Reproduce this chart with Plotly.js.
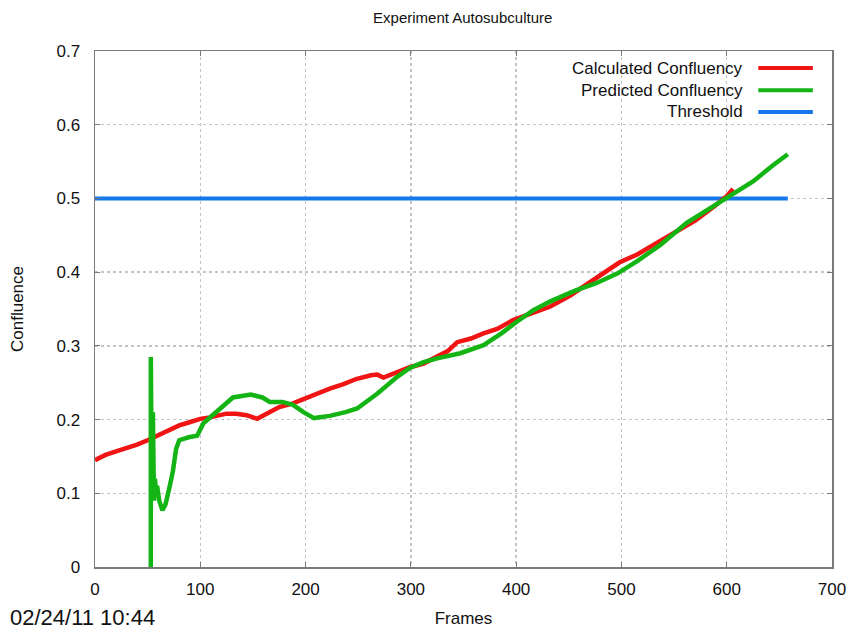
<!DOCTYPE html>
<html>
<head>
<meta charset="utf-8">
<script src="https://cdn.plot.ly/plotly-3.0.1.min.js"></script>
<style>html,body{margin:0;padding:0;background:#fff;}#chart{width:849px;height:634px;}</style>
</head>
<body>
<div id="chart"></div>
<script>
// Calculated confluency (red)
const redFrames = [0, 10, 20, 30, 40, 50, 59, 69, 80, 89, 100, 109, 125, 134, 144, 154, 164, 175, 188, 198, 210, 223, 236, 248, 262, 268, 274, 282, 299, 312, 325, 335, 344, 357, 369, 382, 397, 414, 432, 451, 471, 486, 498, 515, 530, 543, 556, 570, 588, 600, 606];
const redValues = [0.145, 0.152, 0.157, 0.161, 0.166, 0.172, 0.178, 0.185, 0.192, 0.196, 0.201, 0.203, 0.208, 0.208, 0.206, 0.201, 0.208, 0.217, 0.222, 0.228, 0.235, 0.242, 0.248, 0.255, 0.260, 0.261, 0.257, 0.262, 0.271, 0.276, 0.285, 0.293, 0.305, 0.310, 0.317, 0.323, 0.335, 0.344, 0.353, 0.368, 0.387, 0.400, 0.413, 0.424, 0.437, 0.447, 0.458, 0.470, 0.489, 0.503, 0.513];

// Predicted confluency (green)
const greenFrames = [53, 53, 54, 55, 56, 57, 58, 59, 61, 64, 67, 71, 74, 77, 80, 89, 97, 103, 111, 119, 131, 148, 159, 166, 178, 188, 198, 208, 223, 238, 249, 268, 287, 299, 312, 325, 347, 369, 386, 400, 416, 432, 456, 476, 496, 515, 537, 562, 585, 601, 625, 644, 658];
const greenValues = [0.0, 0.285, 0.10, 0.21, 0.09, 0.12, 0.10, 0.11, 0.09, 0.077, 0.085, 0.11, 0.13, 0.16, 0.172, 0.176, 0.178, 0.195, 0.205, 0.217, 0.230, 0.234, 0.230, 0.224, 0.224, 0.220, 0.210, 0.202, 0.205, 0.210, 0.215, 0.235, 0.258, 0.270, 0.278, 0.283, 0.290, 0.301, 0.317, 0.332, 0.348, 0.360, 0.375, 0.385, 0.398, 0.415, 0.437, 0.467, 0.488, 0.501, 0.523, 0.545, 0.560];

// Threshold (blue)
const thresholdFrames = [0, 658];
const thresholdValues = [0.5, 0.5];

const seriesNames = ["Calculated Confluency", "Predicted Confluency", "Threshold"];
const seriesColors = ["rgb(240,20,20)", "rgb(20,180,20)", "rgb(20,120,235)"];

const xTicks = [0, 100, 200, 300, 400, 500, 600, 700];
const yTicks = [0, 0.1, 0.2, 0.3, 0.4, 0.5, 0.6, 0.7];
const yTickLabels = ["0", "0.1", "0.2", "0.3", "0.4", "0.5", "0.6", "0.7"];

const FONT = "Liberation Sans, Arial, sans-serif";

const traces = [
  {x: thresholdFrames, y: thresholdValues, name: seriesNames[2], mode: "lines", line: {color: seriesColors[2], width: 4}},
  {x: redFrames, y: redValues, name: seriesNames[0], mode: "lines", line: {color: seriesColors[0], width: 4.5}},
  {x: greenFrames, y: greenValues, name: seriesNames[1], mode: "lines", line: {color: seriesColors[1], width: 4.5}}
];

const legendRows = [0.967, 0.924, 0.882];
const annotations = [];
const shapes = [];
seriesNames.forEach((n, i) => {
  annotations.push({xref: "paper", yref: "paper", x: 0.882, y: legendRows[i], xanchor: "right", yanchor: "middle",
    text: n, showarrow: false, font: {family: FONT, size: 17, color: "#111"}});
  shapes.push({type: "line", xref: "paper", yref: "paper", x0: 0.900, x1: 0.974, y0: legendRows[i], y1: legendRows[i],
    line: {color: seriesColors[i], width: 4}});
});
annotations.push({xref: "paper", yref: "paper", x: -0.118, y: -0.097, xanchor: "left", yanchor: "middle",
  text: "02/24/11 10:44", showarrow: false, font: {family: FONT, size: 22, color: "#111"}});

const axisCommon = {
  showline: true, linecolor: "#7a7a7a", linewidth: 1.5, mirror: "ticks",
  ticks: "inside", ticklen: 5, tickcolor: "#7a7a7a",
  showgrid: true, gridcolor: "#c4c4c4", griddash: "dot", gridwidth: 1.5,
  zeroline: false, tickfont: {family: FONT, size: 17, color: "#111"}
};

const layout = {
  width: 849, height: 634,
  margin: {l: 95, r: 17, t: 51, b: 67},
  paper_bgcolor: "#fff", plot_bgcolor: "#fff",
  showlegend: false,
  title: {text: "Experiment Autosubculture", font: {family: FONT, size: 15, color: "#111"}, x: 0.545, xanchor: "center", y: 0.972, yanchor: "middle"},
  xaxis: Object.assign({}, axisCommon, {range: [0, 700], tickvals: xTicks, ticktext: xTicks.map(String), ticklabelstandoff: 6,
    title: {text: "Frames", font: {family: FONT, size: 17, color: "#111"}, standoff: 14}}),
  yaxis: Object.assign({}, axisCommon, {range: [0, 0.7], tickvals: yTicks, ticktext: yTickLabels, ticklabelstandoff: 10,
    title: {text: "Confluence", font: {family: FONT, size: 17, color: "#111"}, standoff: 28}}),
  annotations: annotations,
  shapes: shapes
};

Plotly.newPlot("chart", traces, layout, {displayModeBar: false, staticPlot: true});
</script>
</body>
</html>
